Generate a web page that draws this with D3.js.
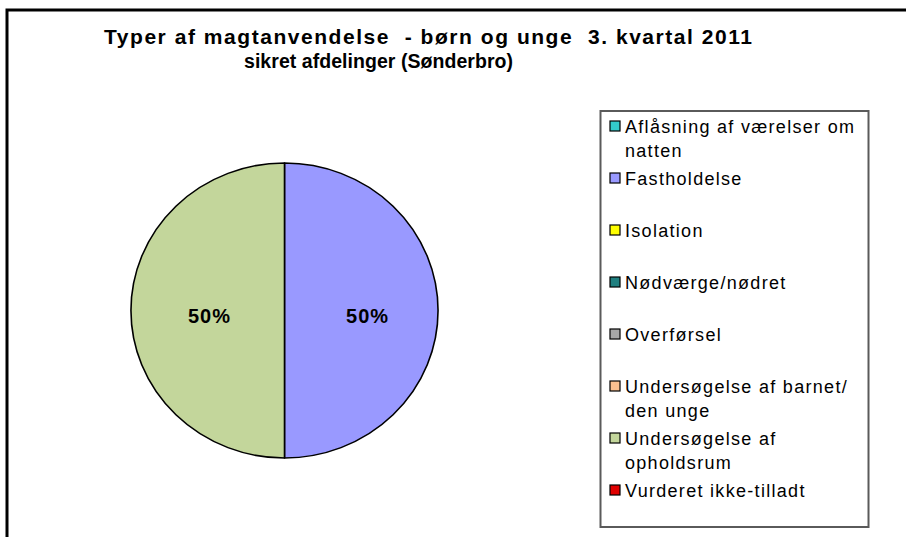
<!DOCTYPE html>
<html>
<head>
<meta charset="utf-8">
<script src="https://cdn.jsdelivr.net/npm/d3@7"></script>
<style>
  body { margin: 0; background: #fff; }
  text { font-family: Arial, "Liberation Sans", sans-serif; }
</style>
</head>
<body>
<div id="chart"></div>
<script>
// data
var categories = [
    ["Aflåsning af værelser om", "natten"],
    ["Fastholdelse"],
    ["Isolation"],
    ["Nødværge/nødret"],
    ["Overførsel"],
    ["Undersøgelse af barnet/", "den unge"],
    ["Undersøgelse af", "opholdsrum"],
    ["Vurderet ikke-tilladt"]
];
var values = [0, 1, 0, 0, 0, 0, 1, 0];
var colors = ["#33CCCC", "#9999FF", "#FFFF00", "#1F7F7F", "#A6A6A6", "#FAC090", "#C3D69B", "#E00000"];
var titleLines = ["Typer af magtanvendelse  - børn og unge  3. kvartal 2011", "sikret afdelinger (Sønderbro)"];

var width = 906, height = 537;

var svg = d3.select('#chart')
    .append('svg')
    .attr('width', width)
    .attr('height', height);

// outer chart frame (runs off the right and bottom edge)
svg.append('rect')
    .attr('x', 7).attr('y', 10)
    .attr('width', 1000).attr('height', 600)
    .attr('fill', 'none')
    .attr('stroke', '#000')
    .attr('stroke-width', 3);

// title - the two lines have slightly different widths in the original
var titleX = [104, 244], titleW = [648, 269], titleY = [44, 68], titleSize = [21, 19.5];
svg.selectAll('text.title')
    .data(titleLines)
    .enter()
    .append('text')
    .attr('class', 'title')
    .attr('x', function(d, i) { return titleX[i]; })
    .attr('y', function(d, i) { return titleY[i]; })
    .attr('textLength', function(d, i) { return titleW[i]; })
    .attr('lengthAdjust', 'spacing')
    .attr('font-size', function(d, i) { return titleSize[i]; })
    .attr('font-weight', 'bold')
    .style('white-space', 'pre')
    .text(function(d) { return d; });

// pie
var total = d3.sum(values);
var pie = d3.pie().sort(null).value(function(d) { return d; });
var cx = 284.5, cy = 310.5, rx = 153.5, ry = 147.5;
var arc = d3.arc().innerRadius(0).outerRadius(rx);

var g = svg.append('g')
    .attr('transform', 'translate(' + cx + ',' + cy + ') scale(1,' + (ry / rx) + ')');

var arcs = pie(values);

g.selectAll('path')
    .data(arcs.filter(function(d) { return d.value > 0; }))
    .enter()
    .append('path')
    .attr('d', arc)
    .attr('fill', function(d) { return colors[d.index]; })
    .attr('stroke', '#000')
    .attr('stroke-width', 1.6)
    .attr('stroke-linejoin', 'round');

var labelArc = d3.arc().innerRadius(rx * 0.51).outerRadius(rx * 0.52);

svg.selectAll('text.pct')
    .data(arcs.filter(function(d) { return d.value > 0; }))
    .enter()
    .append('text')
    .attr('class', 'pct')
    .attr('x', function(d) { return cx + 4 + labelArc.centroid(d)[0]; })
    .attr('y', function(d) { return cy + labelArc.centroid(d)[1] * ry / rx + 12; })
    .attr('text-anchor', 'middle')
    .attr('font-size', 20)
    .attr('font-weight', 'bold')
    .attr('letter-spacing', 1)
    .text(function(d) { return d3.format('.0%')(d.value / total); });

// legend
svg.append('rect')
    .attr('x', 600.5).attr('y', 111)
    .attr('width', 268).attr('height', 416)
    .attr('fill', '#fff')
    .attr('stroke', '#5a5a5a')
    .attr('stroke-width', 2);

var y = d3.scalePoint()
    .domain(d3.range(categories.length))
    .range([126, 490]);

var item = svg.selectAll('g.legend')
    .data(categories)
    .enter()
    .append('g')
    .attr('class', 'legend')
    .attr('transform', function(d, i) { return 'translate(0,' + y(i) + ')'; });

item.append('rect')
    .attr('x', 610).attr('y', -5)
    .attr('width', 10).attr('height', 10)
    .attr('fill', function(d, i) { return colors[i]; })
    .attr('stroke', '#000')
    .attr('stroke-width', 1.2);

item.selectAll('text')
    .data(function(d) { return d; })
    .enter()
    .append('text')
    .attr('x', 625)
    .attr('y', function(d, j) { return 6.5 + j * 24; })
    .attr('font-size', 18)
    .attr('letter-spacing', 1.3)
    .text(function(d) { return d; });
</script>
</body>
</html>
